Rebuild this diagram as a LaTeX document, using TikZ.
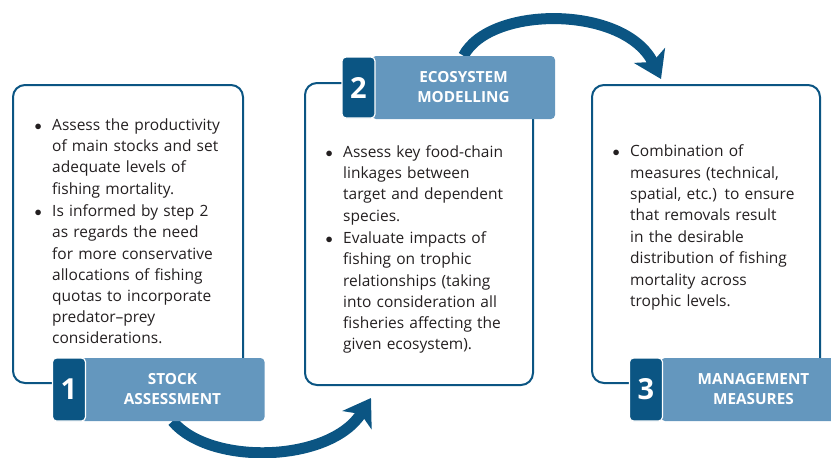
\documentclass[tikz,border=0pt]{standalone}
\usepackage{fontspec}
\setmainfont{Open Sans}
\usepackage{enumitem}
\usetikzlibrary{arrows.meta,backgrounds}
\definecolor{deepblue}{HTML}{0B5583}
\definecolor{paleblue}{HTML}{6497BE}
\definecolor{inktext}{HTML}{231F20}
\setlist[itemize]{label=$\bullet$, leftmargin=15pt, labelsep=10.5pt,
  topsep=0pt, partopsep=0pt, parsep=0pt, itemsep=1.5pt}
\tikzset{
  panel/.style   ={draw=deepblue, rounded corners=12pt, line width=2pt,
                   inner sep=0pt},
  numbox/.style  ={draw=white, fill=deepblue, rounded corners=4pt,
                   line width=1.2pt, text=white, inner sep=0pt,
                   minimum width=33pt, minimum height=63pt,
                   font=\fontsize{29}{30}\selectfont\bfseries},
  titlebox/.style={fill=paleblue, rounded corners=4pt, text=white,
                   inner sep=0pt, align=center, minimum height=63pt,
                   font=\fontsize{15.3}{20}\selectfont\bfseries},
  itemtxt/.style ={anchor=north west, inner sep=0pt, align=left,
                   text=inktext, font=\fontsize{15.5}{21.2}\selectfont},
  flow/.style    ={draw=deepblue, line width=11pt,
                   -{Stealth[length=26pt, width=34pt, inset=7pt]}},
}
\begin{document}
\begin{tikzpicture}[x=1pt, y=-1pt]
  \useasboundingbox (0,0) rectangle (831,458);
  % the three panels
  \node[panel, minimum width=230pt, minimum height=298pt] (stock) at (128,234) {};
  \node[panel, minimum width=228pt, minimum height=302pt] (eco) at (419,234) {};
  \node[panel, minimum width=228pt, minimum height=298pt] (mgmt) at (706,234) {};
  % labels
  \node[titlebox, minimum width=184pt] (stocktitle) at (172.5,389.5) {STOCK\\ASSESSMENT};
  \node[numbox] (stocknum) at (69,389.5) {1};
  \node[titlebox, minimum width=183pt] (ecotitle) at (463.5,87.5) {ECOSYSTEM\\MODELLING};
  \node[numbox, minimum height=61pt] (econum) at (358.5,87.5) {2};
  \node[titlebox, minimum width=185pt] (mgmttitle) at (753.5,389.5) {MANAGEMENT\\MEASURES};
  \node[numbox] (mgmtnum) at (646,389.5) {3};
  % bullet texts
  \node[itemtxt, text width=200pt] (stocktxt) at (37,109) {%
    \begin{itemize}
    \item Assess the productivity\\of main stocks and set\\adequate levels of\\fishing mortality.
    \item Is informed by step 2\\as regards the need\\for more conservative\\allocations of fishing\\quotas to incorporate\\predator--prey\\considerations.
    \end{itemize}};
  \node[itemtxt, text width=200pt] (ecotxt) at (328,136) {%
    \begin{itemize}
    \item Assess key food-chain\\linkages between\\target and dependent\\species.
    \item Evaluate impacts of\\fishing on trophic\\relationships (taking\\into consideration all\\fisheries affecting the\\given ecosystem).
    \end{itemize}};
  \node[itemtxt, text width=200pt] (mgmttxt) at (615,135) {%
    \begin{itemize}[itemsep=0pt]
    \item \baselineskip=21.4pt Combination of\\measures (technical,\\spatial, etc.) to ensure\\that removals result\\in the desirable\\distribution of fishing\\mortality across\\trophic levels.\par
    \end{itemize}};
  % cycle arrows
  \coordinate (tipA) at (371,398);
  \coordinate (tipB) at (661,79);
  \begin{scope}[on background layer]
    \draw[flow] (stocktitle.south) .. controls (210,466) and (330,463) .. (tipA);
    \draw[flow] (ecotitle.north) .. controls (490,5) and (625,5) .. (tipB);
  \end{scope}
\end{tikzpicture}
\end{document}
